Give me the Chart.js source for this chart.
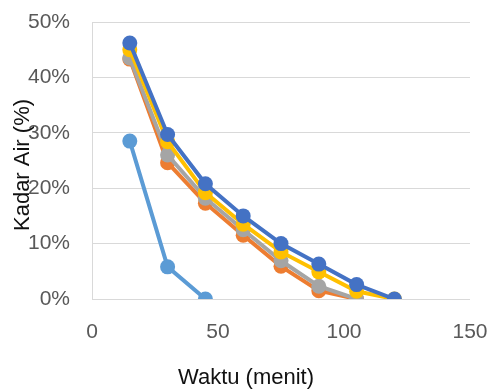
<!DOCTYPE html>
<html><head><meta charset="utf-8">
<script src="https://cdn.jsdelivr.net/npm/chart.js@4"></script>
<style>html,body{margin:0;padding:0;background:#fff}#wrap{width:492px;height:389px;position:relative}</style>
</head><body><div id="wrap"><canvas id="c" width="492" height="389"></canvas></div>
<script>
const waktu = [15, 30, 45, 60, 75, 90, 105, 120];
const seriesDarkBlue = [46.2, 29.7, 20.8, 15.0, 10.0, 6.3, 2.6, 0];
const seriesYellow = [45.0, 28.4, 19.2, 13.5, 8.5, 4.9, 1.4, 0];
const seriesGray = [43.5, 26.0, 18.2, 12.5, 6.9, 2.3, 0];
const seriesOrange = [43.3, 24.6, 17.3, 11.5, 5.9, 1.5, 0];
const seriesLightBlue = [28.5, 5.8, 0];
const yTicks = [0, 10, 20, 30, 40, 50];
const xTicks = [0, 50, 100, 150];
const yTitle = 'Kadar Air (%)';
const xTitle = 'Waktu (menit)';

function pts(vals){ return vals.map((v,i)=>({x: waktu[i], y: v})); }
function ds(vals, color){
  return {data: pts(vals), borderColor: color, backgroundColor: color, borderWidth: 4,
    pointRadius: 7.5, pointHoverRadius: 7.5, pointBorderWidth: 0, tension: 0, fill: false};
}
const FONT = '"Liberation Sans", Arial, sans-serif';
const titlesPlugin = {
  id: 'titles',
  afterDraw(chart){
    const ctx = chart.ctx;
    ctx.save();
    ctx.fillStyle = '#111';
    ctx.font = '22px ' + FONT;
    ctx.textAlign = 'center';
    ctx.textBaseline = 'middle';
    ctx.fillText(xTitle, 246, 378);
    ctx.translate(23, 165);
    ctx.rotate(-Math.PI/2);
    ctx.fillText(yTitle, 0, 0);
    ctx.restore();
  }
};
new Chart(document.getElementById('c'), {
  type: 'line',
  data: { datasets: [
    ds(seriesDarkBlue, '#4472C4'),
    ds(seriesYellow, '#FFC000'),
    ds(seriesGray, '#A5A5A5'),
    ds(seriesOrange, '#ED7D31'),
    ds(seriesLightBlue, '#5B9BD5')
  ]},
  options: {
    responsive: false, animation: false, devicePixelRatio: 1,
    layout: { padding: { left: 0, right: 22, top: 22, bottom: 0 } },
    plugins: { legend: { display: false }, tooltip: { enabled: false } },
    scales: {
      x: { type: 'linear', min: 0, max: 150,
        afterBuildTicks(s){ s.ticks = xTicks.map(v=>({value:v})); },
        afterFit(s){ s.height = 90; s.paddingLeft = 0; s.paddingRight = 0; },
        grid: { display: false, drawTicks: false },
        border: { display: false },
        ticks: { color: '#595959', font: { family: FONT, size: 21 }, padding: 21, maxRotation: 0 } },
      y: { min: 0, max: 50,
        afterBuildTicks(s){ s.ticks = yTicks.map(v=>({value:v})); },
        afterFit(s){ s.width = 92; s.paddingTop = 0; s.paddingBottom = 0; },
        grid: { color: '#D9D9D9', lineWidth: 1, drawTicks: false },
        border: { display: true, color: '#D9D9D9', width: 1 },
        ticks: { color: '#595959', font: { family: FONT, size: 21 }, padding: 22, callback: v => v + '%' } }
    }
  },
  plugins: [titlesPlugin]
});
</script></body></html>
